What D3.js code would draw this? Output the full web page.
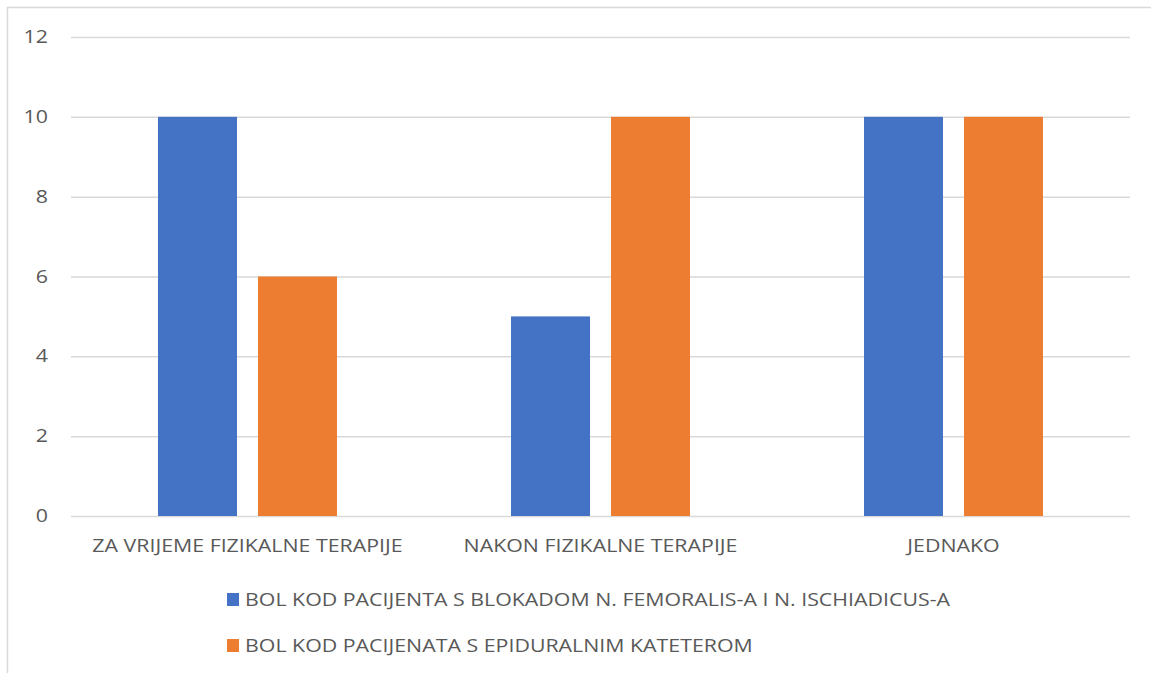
<!DOCTYPE html>
<html><head><meta charset="utf-8">
<script src="https://cdn.jsdelivr.net/npm/d3@7"></script>
<style>body{margin:0;background:#fff;} svg text{font-family:"Open Sans","Liberation Sans",sans-serif;fill:#595959;}</style>
</head><body><svg id="c" width="1151" height="673"></svg>
<script>
const categories = ["ZA VRIJEME FIZIKALNE TERAPIJE", "NAKON FIZIKALNE TERAPIJE", "JEDNAKO"];
const seriesNames = ["BOL KOD PACIJENTA S BLOKADOM N. FEMORALIS-A I N. ISCHIADICUS-A", "BOL KOD PACIJENATA S EPIDURALNIM KATETEROM"];
const blockade = [10, 5, 10];
const epidural = [6, 10, 10];
const yTicks = [0, 2, 4, 6, 8, 10, 12];
const colors = ["#4472C4", "#ED7D31"];

const FS = 17.5, SX = 1.22;
function stretch(sel) {
  sel.each(function () {
    const t = d3.select(this);
    const x = +t.attr("x") || 0, yv = +t.attr("y") || 0;
    t.attr("x", 0).attr("y", 0).attr("font-size", FS).style("fill", "#595959")
     .attr("transform", `translate(${x},${yv}) scale(${SX},1)`);
  });
}

const svg = d3.select("#c");
svg.append("rect").attr("x", 7.5).attr("y", 7.5).attr("width", 1160).attr("height", 680)
  .attr("fill", "none").attr("stroke", "#d9d9d9").attr("stroke-width", 1.5);

const x0 = d3.scaleBand().domain(categories).range([71, 1130]).paddingInner(0).paddingOuter(0);
const y = d3.scaleLinear().domain([0, 12]).range([516, 37]);
const x1 = d3.scaleBand().domain([0, 1]).range([0, x0.bandwidth()]).paddingInner(0.21).paddingOuter(0.87);

const yAxis = d3.axisLeft(y).tickValues(yTicks).tickSize(-(1130 - 71)).tickPadding(23);
const ga = svg.append("g").attr("transform", "translate(71,0)").call(yAxis);
ga.select(".domain").remove();
ga.selectAll(".tick line").attr("stroke", "#d9d9d9").attr("stroke-width", 1.5);
stretch(ga.selectAll(".tick text"));

const series = [blockade, epidural];
series.forEach((vals, si) => {
  svg.append("g").selectAll("rect").data(categories).join("rect")
    .attr("x", (c) => x0(c) + x1(si))
    .attr("width", x1.bandwidth())
    .attr("y", (c, i) => y(vals[i]))
    .attr("height", (c, i) => y(0) - y(vals[i]))
    .attr("fill", colors[si]);
});

const xAxis = d3.axisBottom(x0).tickSize(0).tickPadding(24);
const gx = svg.append("g").attr("transform", "translate(0,516)").call(xAxis);
gx.select(".domain").remove();
stretch(gx.selectAll(".tick text"));

const lg = svg.append("g");
seriesNames.forEach((n, i) => {
  const yy = 593 + i * 46;
  lg.append("rect").attr("x", 227).attr("y", yy).attr("width", 12).attr("height", 13).attr("fill", colors[i]);
  const t = lg.append("text").attr("x", 245).attr("y", yy + 13).text(n);
  stretch(t);
});
</script></body></html>
